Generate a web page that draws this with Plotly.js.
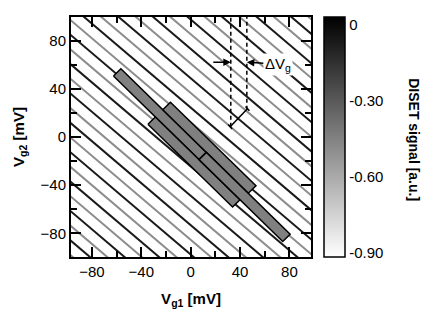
<!DOCTYPE html>
<html><head><meta charset="utf-8">
<script src="https://cdn.plot.ly/plotly-3.0.1.min.js"></script>
<style>html,body{margin:0;padding:0;background:#fff}#chart{width:436px;height:328px}</style>
</head><body><div id="chart"></div>
<script>
// ---------------- data ----------------
const xTickVals = [-80, -40, 0, 40, 80];
const yTickVals = [-80, -40, 0, 40, 80];
const minorTickVals = [-60, -20, 20, 60];
// DISET stripes: Vg2 = slope * (Vg1 - offset)
const stripeSlope = -0.87;
const darkStripeOffsets = [-196, -168, -140, -112, -84, -56, -28, 0, 28, 56, 84, 112, 140, 168, 196];
const greyStripeOffsets = [-210, -182, -154, -126, -98, -70, -42, -14, 14, 42, 70, 98, 126, 154, 182, 210];
// grey blocks in rotated frame: u=(Vg1-Vg2)/sqrt2, v=(Vg1+Vg2)/sqrt2  [mV]
const blockUStart = [-80, -32, -32, 18];
const blockUEnd   = [18, 66, 65, 114];
const blockVLow   = [-8.5, 0, -17, -8.5];
const blockVHigh  = [0, 8.8, -8.5, 0];
// colour bar
const cbTickVals = [0, -0.30, -0.60, -0.90];
const cbTickText = ['0', '-0.30', '-0.60', '-0.90'];
const cbMin = -0.916, cbMax = 0.032;

// ---------------- build ----------------
const FONT = 'Liberation Sans, Arial, sans-serif';
const XR = [-97, 97.5], YR = [-99.5, 99.5];
function stripeTrace(offsets, color) {
  const xs = [], ys = [];
  offsets.forEach(o => {
    [-130, 130].forEach(y => { xs.push(o + y / stripeSlope); ys.push(y); });
    xs.push(null); ys.push(null);
  });
  return {type: 'scatter', mode: 'lines', x: xs, y: ys, hoverinfo: 'skip',
          line: {color: color, width: 2}, showlegend: false};
}
const S = Math.SQRT2;
function pt(u, v) { return [(u + v) / S, (v - u) / S]; }
const blockTraces = blockUStart.map((u0, i) => {
  const u1 = blockUEnd[i], v0 = blockVLow[i], v1 = blockVHigh[i];
  const c = [pt(u0, v0), pt(u1, v0), pt(u1, v1), pt(u0, v1), pt(u0, v0)];
  return {type: 'scatter', mode: 'lines', x: c.map(p => p[0]), y: c.map(p => p[1]),
          fill: 'toself', fillcolor: '#808080', line: {color: '#000', width: 1.5},
          hoverinfo: 'skip', showlegend: false};
});
const cbTrace = {type: 'scatter', mode: 'markers', x: [500], y: [500], hoverinfo: 'skip', showlegend: false,
  marker: {color: [0], cmin: cbMin, cmax: cbMax, colorscale: [[0, '#ffffff'], [1, '#000000']],
    showscale: true, size: 1,
    colorbar: {x: 1.054, xanchor: 'left', xpad: 0, ypad: 0, y: 0.5, yanchor: 'middle',
      len: 1, lenmode: 'fraction', thickness: 21, thicknessmode: 'pixels',
      outlinewidth: 1.5, outlinecolor: '#000', tickvals: cbTickVals, ticktext: cbTickText,
      ticks: '', tickfont: {family: FONT, size: 15, color: '#000'}}}};
const mirrorTrace = {type: 'scatter', mode: 'markers', x: [500], y: [500], xaxis: 'x2', yaxis: 'y2',
  hoverinfo: 'skip', showlegend: false, marker: {size: 1, color: 'rgba(0,0,0,0)'}};

const tickStyle = {
  ticks: 'inside', ticklen: 10, tickwidth: 2, tickcolor: '#000',
  showgrid: false, zeroline: false,
  minor: {tickvals: minorTickVals, ticks: 'inside', ticklen: 6, tickwidth: 2, tickcolor: '#000', showgrid: false}
};
const layout = {
  width: 436, height: 328, margin: {l: 71, r: 125, t: 17, b: 71},
  paper_bgcolor: '#fff', plot_bgcolor: '#fff', showlegend: false,
  font: {family: FONT, color: '#000'},
  xaxis: Object.assign({}, tickStyle, {range: XR, tickvals: xTickVals, mirror: true,
    showline: true, linewidth: 2, linecolor: '#000',
    tickfont: {family: FONT, size: 15, color: '#000'},
    title: {text: '<b>V<sub>g1</sub> [mV]</b>', font: {family: FONT, size: 15}, standoff: 14}}),
  yaxis: Object.assign({}, tickStyle, {range: YR, tickvals: yTickVals, mirror: true,
    showline: true, linewidth: 2, linecolor: '#000',
    tickfont: {family: FONT, size: 15, color: '#000'},
    title: {text: '<b>V<sub>g2</sub> [mV]</b>', font: {family: FONT, size: 15}, standoff: 12}}),
  xaxis2: Object.assign({}, tickStyle, {range: XR, tickvals: xTickVals, overlaying: 'x', side: 'top',
    anchor: 'y2', showticklabels: false, showline: false}),
  yaxis2: Object.assign({}, tickStyle, {range: YR, tickvals: yTickVals, overlaying: 'y', side: 'right',
    anchor: 'x2', showticklabels: false, showline: false}),
  shapes: [
    {type: 'line', x0: 32.5, x1: 32.5, y0: 8.5, y1: 99.5, line: {color: '#000', width: 1.5, dash: '4px,3px'}},
    {type: 'line', x0: 45.5, x1: 45.5, y0: 22.5, y1: 99.5, line: {color: '#000', width: 1.5, dash: '4px,3px'}},
    {type: 'line', x0: 32, y0: 8.5, x1: 46, y1: 23.5, line: {color: '#000', width: 1.5}},
    {type: 'line', x0: 30.4, y0: 10.3, x1: 33.6, y1: 6.7, line: {color: '#000', width: 1.5}},
    {type: 'line', x0: 44.4, y0: 25.3, x1: 47.6, y1: 21.7, line: {color: '#000', width: 1.5}}
  ],
  annotations: [
    {x: 32.5, y: 62, ax: -19, ay: 0, text: '', showarrow: true, arrowhead: 2, arrowsize: 1,
     arrowwidth: 1.5, arrowcolor: '#000', standoff: 0},
    {x: 45.5, y: 62, ax: 31, ay: 2, text: 'ΔV<sub>g</sub>', showarrow: true, arrowhead: 2, arrowsize: 1,
     arrowwidth: 1.5, arrowcolor: '#000', standoff: 0, bgcolor: '#fff', borderpad: 1,
     font: {family: FONT, size: 15, color: '#000'}},
    {xref: 'paper', yref: 'paper', x: 1.47, y: 0.4875, text: '<b>DISET signal [a.u.]</b>', textangle: 90,
     showarrow: false, font: {family: FONT, size: 14, color: '#000'}}
  ]
};
const traces = [stripeTrace(greyStripeOffsets, '#8c8c8c'), stripeTrace(darkStripeOffsets, '#1a1a1a')]
  .concat(blockTraces, [cbTrace, mirrorTrace]);
Plotly.newPlot('chart', traces, layout, {staticPlot: true, displayModeBar: false});
</script></body></html>
